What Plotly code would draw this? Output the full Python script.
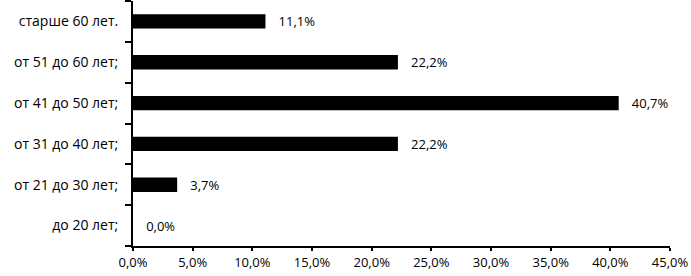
import plotly.graph_objects as go

categories = ["до 20 лет;", "от 21 до 30 лет;", "от 31 до 40 лет;", "от 41 до 50 лет;", "от 51 до 60 лет;", "старше 60 лет."]
values = [0.0, 0.037, 0.222, 0.407, 0.222, 0.111]
x_ticks = [0, 0.05, 0.10, 0.15, 0.20, 0.25, 0.30, 0.35, 0.40, 0.45]

labels = ["   " + f"{v*100:.1f}%".replace(".", ",") for v in values]
FONT = "Open Sans"

fig = go.Figure(go.Bar(
    y=categories, x=values, orientation="h",
    marker=dict(color="black", line=dict(width=0)),
    width=0.35,
    text=labels, textposition="outside", cliponaxis=False,
    constraintext="none",
    textfont=dict(family=FONT, size=13, color="black"),
))

fig.update_layout(
    width=691, height=276,
    margin=dict(l=133, r=21, t=1, b=30),
    plot_bgcolor="white", paper_bgcolor="white",
    separators=", ",
    font=dict(family=FONT, size=13, color="black"),
    showlegend=False,
)
fig.update_xaxes(
    range=[0, 0.45], tickvals=x_ticks, tickformat=".1%",
    showgrid=False, zeroline=False, automargin=False,
    showline=True, linecolor="black", linewidth=2,
    ticks="outside", ticklen=3, tickwidth=2, tickcolor="black",
)
fig.update_yaxes(
    categoryorder="array", categoryarray=categories,
    showgrid=False, showline=True, linecolor="black", linewidth=2,
    automargin=False, tickfont=dict(size=14),
    ticks="outside", ticklen=6, tickwidth=2, tickcolor="black",
    tickson="boundaries", ticklabelstandoff=10,
)

fig.write_html("out.html", config={"displayModeBar": False},
               post_script="document.body.style.margin='0';")
